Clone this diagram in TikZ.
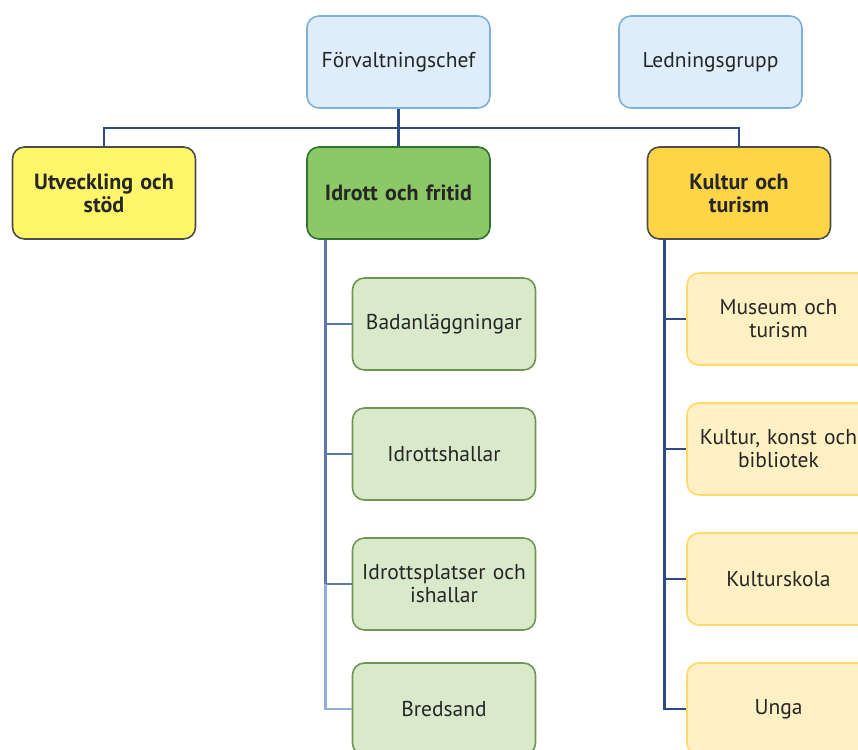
\documentclass[tikz,border=0pt]{standalone}
\usepackage{fontspec}
\setmainfont{PT Sans}
\begin{document}
\begin{tikzpicture}[x=1pt,y=-1pt,
  box/.style={rectangle,rounded corners=12pt,minimum width=183pt,minimum height=92pt,
    inner sep=1pt,text width=181pt,align=center,font=\fontsize{21.5}{23}\selectfont,
    text=black!85,line width=1.6pt},
  top/.style={box,draw=topd,fill=topf},
  head/.style={box,font=\bfseries\fontsize{22}{23}\selectfont,draw=black!70},
  gchild/.style={box,draw=gcd,fill=gcf},
  ychild/.style={box,draw=ycd,fill=ycf},
  ln/.style={line width=2.6pt,draw=navy}
]
\definecolor{topd}{HTML}{7DB1DC}
\definecolor{topf}{HTML}{DEEDF9}
\definecolor{gcd}{HTML}{6F9657}
\definecolor{gcf}{HTML}{D9EACB}
\definecolor{ycd}{HTML}{FFDA6A}
\definecolor{ycf}{HTML}{FFF1C3}
\definecolor{navy}{HTML}{2D4C86}
\definecolor{midln}{HTML}{5B79A8}
\definecolor{utvc}{HTML}{FFF66A}
\definecolor{idrc}{HTML}{8DC866}
\definecolor{kulc}{HTML}{FFD548}
\definecolor{lightln}{HTML}{94ADD8}
\useasboundingbox (0,0) rectangle (858,749);
\clip (0,0) rectangle (858,749);

\node[top] (forv) at (398.5,62) {Förvaltningschef};
\node[top] (led) at (710.5,62) {Ledningsgrupp};

\node[head,fill=utvc] (utv) at (104,193) {Utveckling och\\stöd};
\node[head,fill=idrc,draw=green!30!black!80] (idr) at (398.5,193) {Idrott och fritid};
\node[head,fill=kulc] (kul) at (739,193) {Kultur och\\turism};

\node[gchild] (bad) at (444,324) {Badanläggningar};
\node[gchild] (ihal) at (444,454) {Idrottshallar};
\node[gchild] (ipl) at (444,584) {Idrottsplatser och\\ishallar};
\node[gchild] (bred) at (444,709) {Bredsand};

\node[ychild] (mus) at (778.5,319) {Museum och\\turism};
\node[ychild] (kkb) at (778.5,449) {Kultur, konst och\\bibliotek};
\node[ychild] (ksk) at (778.5,579) {Kulturskola};
\node[ychild] (unga) at (778.5,709) {Unga};

\coordinate (bus) at (398.5,128);
\draw[ln] (forv.south) -- (idr.north);
\draw[ln] (bus) -| (utv.north);
\draw[ln] (bus) -| (kul.north);

\coordinate (ia) at ([xshift=19pt]idr.south west);
\coordinate (ib) at (ia |- ipl.west);
\draw[ln,draw=midln] (ia) |- (bad.west);
\draw[ln,draw=midln] (ia) |- (ihal.west);
\draw[ln,draw=midln] (ia) |- (ipl.west);
\draw[ln,draw=lightln] (ib) |- (bred.west);

\coordinate (ka) at ([xshift=18pt]kul.south west);
\draw[ln] (ka) |- (mus.west);
\draw[ln] (ka) |- (kkb.west);
\draw[ln] (ka) |- (ksk.west);
\draw[ln] (ka) |- (unga.west);
\end{tikzpicture}
\end{document}
